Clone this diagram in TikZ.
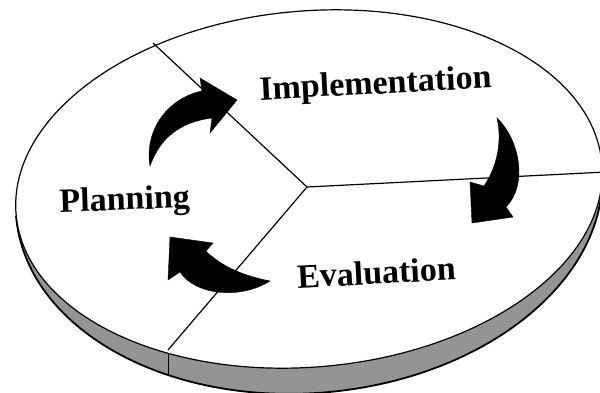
\documentclass[tikz,border=0pt]{standalone}
\usepackage{fontspec}
\setmainfont{Liberation Serif}
\begin{document}
\begin{tikzpicture}[x=1pt,y=-1pt,font=\bfseries\fontsize{34}{38}\selectfont]
\tikzset{
  rim/.style={line width=1.8pt, fill=black!42},
  face/.style={line width=1.2pt, fill=white},
  divider/.style={line width=1.2pt},
  bigarrow/.style={fill=black, draw=black, line width=0.4pt, line join=miter},
  label/.style={anchor=base, inner sep=0pt}
}
\useasboundingbox (0,0) rectangle (600,392);
\clip (0,0) rectangle (600,392);

\coordinate (m) at (307,187);
\coordinate (p) at (153,43);
\coordinate (q) at (606,172);
\coordinate (r) at (168,350);
\coordinate (s) at (168,376);

\begin{scope}[shift={(309,191)},rotate=5]
\draw[rim] (-294,0) arc [start angle=180, end angle=0, x radius=294, y radius=202] -- cycle;
\end{scope}
\draw[line width=1pt] (r) -- (s);

\begin{scope}[shift={(309,189)},rotate=5]
\draw[face] (0,0) ellipse [x radius=294, y radius=178];
\end{scope}

\draw[divider] (p) -- (m) -- (q);
\draw[divider] (m) -- (r);

\begin{scope}
\coordinate (a) at (150,166);
\coordinate (b) at (202,91);
\coordinate (c) at (200,78);
\coordinate (d) at (237,100);
\coordinate (e) at (210,133);
\coordinate (f) at (212,118);
\filldraw[bigarrow] (a) .. controls (144,130) and (168,98) .. (b) -- (c) -- (d) -- (e) -- (f)
  .. controls (180,122) and (160,138) .. (a) -- cycle;
\end{scope}

\begin{scope}
\coordinate (a) at (497,118);
\coordinate (b) at (506,207);
\coordinate (c) at (513,217);
\coordinate (d) at (472,223);
\coordinate (e) at (470,182);
\coordinate (f) at (484,186);
\filldraw[bigarrow] (a) .. controls (520,140) and (528,185) .. (b) -- (c) -- (d) -- (e) -- (f)
  .. controls (498,165) and (502,140) .. (a) -- cycle;
\end{scope}

\begin{scope}
\coordinate (a) at (270,281);
\coordinate (b) at (206,251);
\coordinate (c) at (213,243);
\coordinate (d) at (170,237);
\coordinate (e) at (168,280);
\coordinate (f) at (180,272);
\filldraw[bigarrow] (a) .. controls (240,275) and (220,265) .. (b) -- (c) -- (d) -- (e) -- (f)
  .. controls (195,295) and (240,300) .. (a) -- cycle;
\end{scope}

\node[label, rotate=3] (impl) at (376,94) {Implementation};
\node[label, rotate=2] (plan) at (125,210) {Planning};
\node[label, rotate=3] (eval) at (377,284) {Evaluation};

\end{tikzpicture}
\end{document}
